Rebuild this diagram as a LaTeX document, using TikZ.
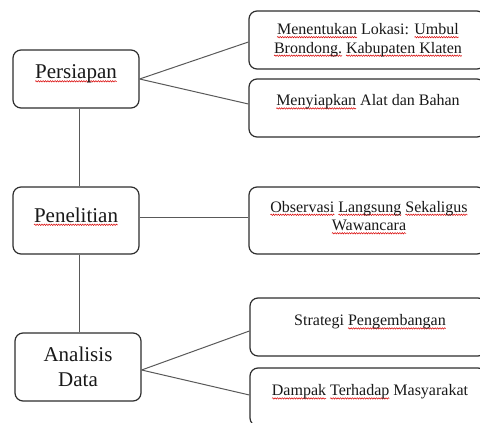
\documentclass[tikz,border=0pt]{standalone}
\usepackage{fontspec}
\setmainfont{Liberation Serif}
\usetikzlibrary{decorations.pathmorphing}
\newsavebox\sqbox
\newdimen\sqw
\newcommand\sq[1]{\sbox\sqbox{#1}\sqw=\wd\sqbox\rlap{\tikz[baseline=0pt,x=1pt,y=1pt]{\useasboundingbox (0,0); \draw[red!85!black,line width=0.5pt,decorate,decoration={snake,amplitude=0.7pt,segment length=2.4pt}] (0,-2.6) -- (\sqw,-2.6);}}\usebox\sqbox}
\begin{document}
\begin{tikzpicture}[x=1pt,y=-1pt]
\tikzset{
  box/.style={draw=black!82, line width=1.2pt, rounded corners=8pt, inner sep=0pt, fill=white},
  link/.style={draw=black!65, line width=1pt},
  big/.style={font=\fontsize{21}{25}\selectfont, align=center, inner sep=0pt, text=black!90},
  small/.style={font=\fontsize{16}{18.5}\selectfont, align=center, inner sep=0pt, text=black!90}
}
\useasboundingbox (0,0) rectangle (480,423);
\begin{scope}
\clip (0,0) rectangle (480,423);
% left boxes
\node[box, minimum width=126pt, minimum height=58pt] (p) at (76,79) {};
\node[box, minimum width=126pt, minimum height=67pt] (n) at (76,220.5) {};
\node[box, minimum width=126pt, minimum height=68pt] (a) at (78,367) {};
% right boxes
\node[box, minimum width=236pt, minimum height=58pt] (r1) at (367,40) {};
\node[box, minimum width=236pt, minimum height=58pt] (r2) at (367,108) {};
\node[box, minimum width=236pt, minimum height=67pt] (r3) at (367,220.5) {};
\node[box, minimum width=236pt, minimum height=58pt] (r4) at (368,327) {};
\node[box, minimum width=236pt, minimum height=58pt] (r5) at (368,397) {};
% connectors
\draw[link] ([xshift=3pt]p.south) -- ([xshift=3pt]n.north);
\draw[link] ([xshift=3pt]n.south) -- ([xshift=1pt]a.north);
\draw[link] (p.east) -- ([yshift=-2pt]r1.west);
\draw[link] (p.east) -- ([yshift=4pt]r2.west);
\draw[link] ([yshift=3pt]n.east) -- ([yshift=3pt]r3.west);
\draw[link] ([yshift=-3pt]a.east) -- ([yshift=-4pt]r4.west);
\draw[link] ([yshift=-3pt]a.east) -- ([yshift=2pt]r5.west);
% texts
\node[big] (tp) at (76,74) {\sq{Persiapan}};
\node[big] (tn) at (76,215) {\sq{Penelitian}};
\node[big] (ta) at (78,367) {Analisis\\Data};
\node[small] (t1) at (368,40) {\sq{Menentukan} Lokasi: \sq{Umbul}\\\sq{Brondong.} \sq{Kabupaten Klaten}};
\node[small] (t2) at (368,102) {\sq{Menyiapkan} Alat dan Bahan};
\node[small] (t3) at (369,216) {\sq{Observasi} \sq{Langsung} \sq{Sekaligus}\\\sq{Wawancara}};
\node[small] (t4) at (370,322) {Strategi \sq{Pengembangan}};
\node[small] (t5) at (370,392) {\sq{Dampak} \sq{Terhadap} Masyarakat};
\end{scope}
\end{tikzpicture}
\end{document}
